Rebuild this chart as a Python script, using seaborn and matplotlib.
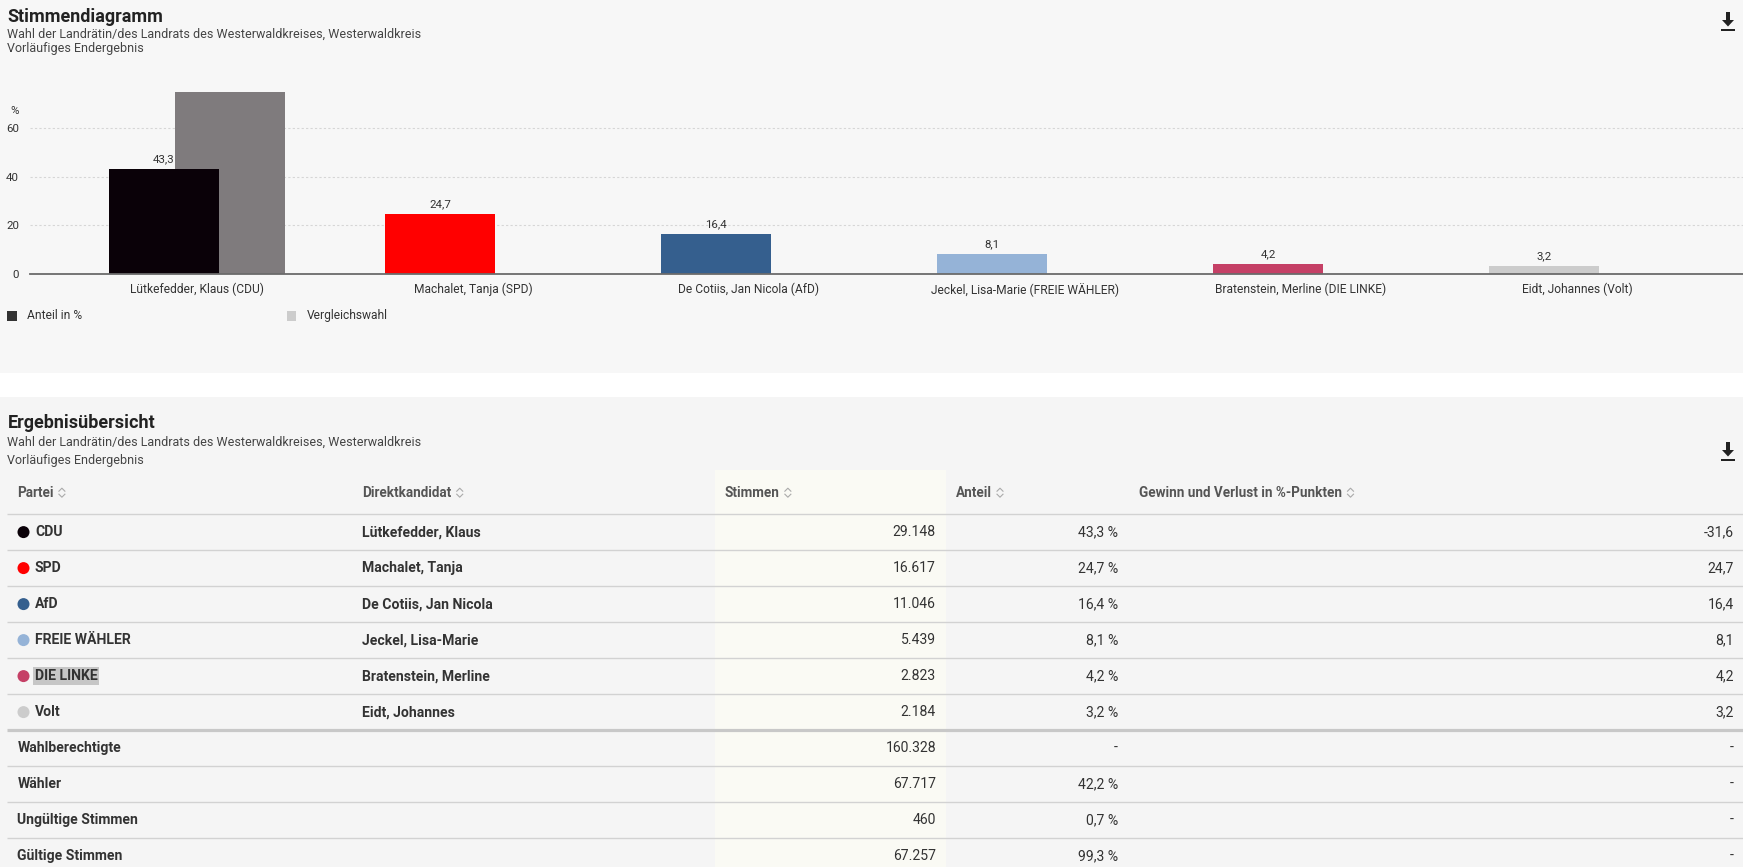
import numpy as np
import pandas as pd
import matplotlib
matplotlib.use("Agg")
import matplotlib.pyplot as plt
from matplotlib.patches import Rectangle, Circle, Polygon
import seaborn as sns

# ---- data ----
kandidaten = ["Lütkefedder, Klaus (CDU)", "Machalet, Tanja (SPD)", "De Cotiis, Jan Nicola (AfD)",
              "Jeckel, Lisa-Marie (FREIE WÄHLER)", "Bratenstein, Merline (DIE LINKE)", "Eidt, Johannes (Volt)"]
parteien = ["CDU", "SPD", "AfD", "FREIE WÄHLER", "DIE LINKE", "Volt"]
namen = ["Lütkefedder, Klaus", "Machalet, Tanja", "De Cotiis, Jan Nicola",
         "Jeckel, Lisa-Marie", "Bratenstein, Merline", "Eidt, Johannes"]
stimmen = [29148, 16617, 11046, 5439, 2823, 2184]
anteil = [43.3, 24.7, 16.4, 8.1, 4.2, 3.2]
gewinn = [-31.6, 24.7, 16.4, 8.1, 4.2, 3.2]
farben = ["#0a0108", "#ff0000", "#355f8e", "#95b3d7", "#c54066", "#cccccc"]

summe_labels = ["Wahlberechtigte", "Wähler", "Ungültige Stimmen", "Gültige Stimmen"]
summe_stimmen = [160328, 67717, 460, 67257]
summe_anteil = [None, 42.2, 0.7, 99.3]

titel = "Stimmendiagramm"
titel2 = "Ergebnisübersicht"
untertitel = "Wahl der Landrätin/des Landrats des Westerwaldkreises, Westerwaldkreis"
stand = "Vorläufiges Endergebnis"


def pt(px):
    return px * 72 / 100


def de_num(v, dec=None):
    if dec is None:
        return f"{v:,}".replace(",", ".")
    return f"{v:.{dec}f}".replace(".", ",")


plt.rcParams["font.family"] = ["Liberation Sans Narrow", "Roboto", "DejaVu Sans"]

W, H = 1743, 867
fig = plt.figure(figsize=(W / 100, H / 100), dpi=100, facecolor="white")
bg = fig.add_axes([0, 0, 1, 1])
bg.set_xlim(0, W)
bg.set_ylim(H, 0)
bg.axis("off")

# panels
bg.add_patch(Rectangle((0, 0), W, 372.7, color="#f7f7f7", lw=0))
bg.add_patch(Rectangle((0, 396.7), W, H - 396.7, color="#f5f5f5", lw=0))


def download_icon(cx, top):
    bg.add_patch(Rectangle((cx - 2, top), 4, 8.5, color="#222", lw=0))
    bg.add_patch(Polygon([(cx - 6, top + 8), (cx + 6, top + 8), (cx, top + 14.5)], color="#222", lw=0))
    bg.add_patch(Rectangle((cx - 7, top + 16.5), 14, 2, color="#222", lw=0))


# ---- chart panel ----
bg.text(7.5, 16.7, titel, fontsize=pt(18), fontweight="bold", color="#222", va="center")
bg.text(7.5, 34.3, untertitel, fontsize=pt(12.5), color="#444", va="center")
bg.text(7.5, 48.3, stand, fontsize=pt(12.5), color="#444", va="center")
download_icon(1728, 12)

y0_px, scale = 274, 2.428
ymax = 80
ax = fig.add_axes([30 / W, 1 - y0_px / H, (W - 30) / W, ymax * scale / H])
ax.set_facecolor("none")
ax.set_zorder(2)

df = pd.DataFrame({
    "kandidat": kandidaten,
    "anteil": anteil,
    "vergleich": [round(a - g, 1) for a, g in zip(anteil, gewinn)],
    "pos": np.arange(len(kandidaten)),
})

sns.barplot(x=df["pos"] + 0.12, y=df["vergleich"], native_scale=True, width=0.4,
            color="#7f7b7d", saturation=1, linewidth=0, ax=ax)
sns.barplot(x=df["pos"] - 0.12, y=df["anteil"], hue=df["kandidat"],
            palette=dict(zip(kandidaten, farben)), native_scale=True, width=0.4,
            dodge=False, legend=False, saturation=1, linewidth=0, ax=ax)

for i, v in enumerate(anteil):
    ax.annotate(de_num(v, 1), (i - 0.12, v), xytext=(0, 3.5), textcoords="offset points",
                ha="center", va="bottom", fontsize=pt(11.5), color="#333")

ax.set_xlim(-0.605, 5.601)
ax.set_ylim(0, ymax)
ax.set_xticks(range(len(kandidaten)), kandidaten)
ax.set_yticks([0, 20, 40, 60])
ax.tick_params(axis="x", length=0, pad=pt(9), labelsize=pt(12), labelcolor="#333")
ax.tick_params(axis="y", length=0, pad=pt(11), labelsize=pt(11.5), labelcolor="#333")
ax.set_xlabel("")
ax.set_ylabel("")
ax.yaxis.grid(True, color="#d6d6d6", linestyle=(0, (2, 2)), linewidth=0.8)
ax.xaxis.grid(False)
ax.set_axisbelow(True)
for s in ["top", "right", "left"]:
    ax.spines[s].set_visible(False)
ax.spines["bottom"].set_color("#6b6b6b")
ax.spines["bottom"].set_linewidth(1.3)

bg.text(15, 111, "%", ha="center", va="center", fontsize=pt(11.5), color="#333")

# legend
bg.add_patch(Rectangle((7.4, 311), 9.5, 9.5, color="#333333", lw=0))
bg.text(27, 315.7, "Anteil in %", va="center", fontsize=pt(12), color="#333")
bg.add_patch(Rectangle((287, 311), 9.5, 9.5, color="#cccccc", lw=0))
bg.text(307, 315.7, "Vergleichswahl", va="center", fontsize=pt(12), color="#333")

# ---- table panel ----
bg.text(7.5, 423.3, titel2, fontsize=pt(18), fontweight="bold", color="#222", va="center")
bg.text(7.5, 442.7, untertitel, fontsize=pt(12.5), color="#444", va="center")
bg.text(7.5, 460.7, stand, fontsize=pt(12.5), color="#444", va="center")
download_icon(1728, 442)

bg.add_patch(Rectangle((715.5, 470), 230.5, H - 470, color="#fafaf4", lw=0))

x_partei, x_kand, x_stim, x_ant, x_gew = 17.4, 362.5, 936, 1118, 1734
kopf = [("Partei", 17.4), ("Direktkandidat", 362.5), ("Stimmen", 725),
        ("Anteil", 956), ("Gewinn und Verlust in %-Punkten", 1139.5)]
kopf_y = 492.7
kopf_txt = [bg.text(x, kopf_y, t, fontsize=pt(13.5), fontweight="semibold", color="#555", va="center")
            for t, x in kopf]

line_top = 514.3
row_h = 36.0
n_rows = len(parteien) + len(summe_labels)
for k in range(n_rows):
    y = line_top + row_h * k
    thick = k == len(parteien)
    bg.plot([6.7, W], [y, y], color="#c8c8c8" if thick else "#d2d2d2",
            lw=2.3 if thick else 1.0, solid_capstyle="butt")

fs = pt(14)
for k in range(len(parteien)):
    yc = line_top + row_h * k + 17.8
    bg.add_patch(Circle((23.5, yc), 6, color=farben[k], lw=0))
    kw = dict(fontsize=fs, color="#333", va="center")
    if parteien[k] == "DIE LINKE":
        kw["bbox"] = dict(boxstyle="square,pad=0.12", fc="#c6c6c6", ec="none")
    bg.text(35, yc, parteien[k], fontweight="bold", **kw)
    bg.text(x_kand, yc, namen[k], fontsize=fs, fontweight="bold", color="#333", va="center")
    bg.text(x_stim, yc, de_num(stimmen[k]), fontsize=fs, color="#333", va="center", ha="right")
    bg.text(x_ant, yc, de_num(anteil[k], 1) + " %", fontsize=fs, color="#333", va="center", ha="right")
    bg.text(x_gew, yc, de_num(gewinn[k], 1), fontsize=fs, color="#333", va="center", ha="right")

for j in range(len(summe_labels)):
    yc = line_top + row_h * (len(parteien) + j) + 17.8
    bg.text(x_partei, yc, summe_labels[j], fontsize=fs, fontweight="bold", color="#333", va="center")
    bg.text(x_stim, yc, de_num(summe_stimmen[j]), fontsize=fs, color="#333", va="center", ha="right")
    a = summe_anteil[j]
    bg.text(x_ant, yc, "-" if a is None else de_num(a, 1) + " %", fontsize=fs, color="#333",
            va="center", ha="right")
    bg.text(x_gew, yc, "-", fontsize=fs, color="#333", va="center", ha="right")

# sort icons next to header texts
fig.canvas.draw()
renderer = fig.canvas.get_renderer()
inv = bg.transData.inverted()
for t in kopf_txt:
    bb = t.get_window_extent(renderer)
    x_end = inv.transform((bb.x1, bb.y0))[0]
    cx = x_end + 8
    bg.plot([cx - 3, cx, cx + 3], [kopf_y - 1.5, kopf_y - 4.5, kopf_y - 1.5], color="#aaa", lw=0.8)
    bg.plot([cx - 3, cx, cx + 3], [kopf_y + 1.5, kopf_y + 4.5, kopf_y + 1.5], color="#aaa", lw=0.8)

fig.savefig("out.png", dpi=100, facecolor="white")
